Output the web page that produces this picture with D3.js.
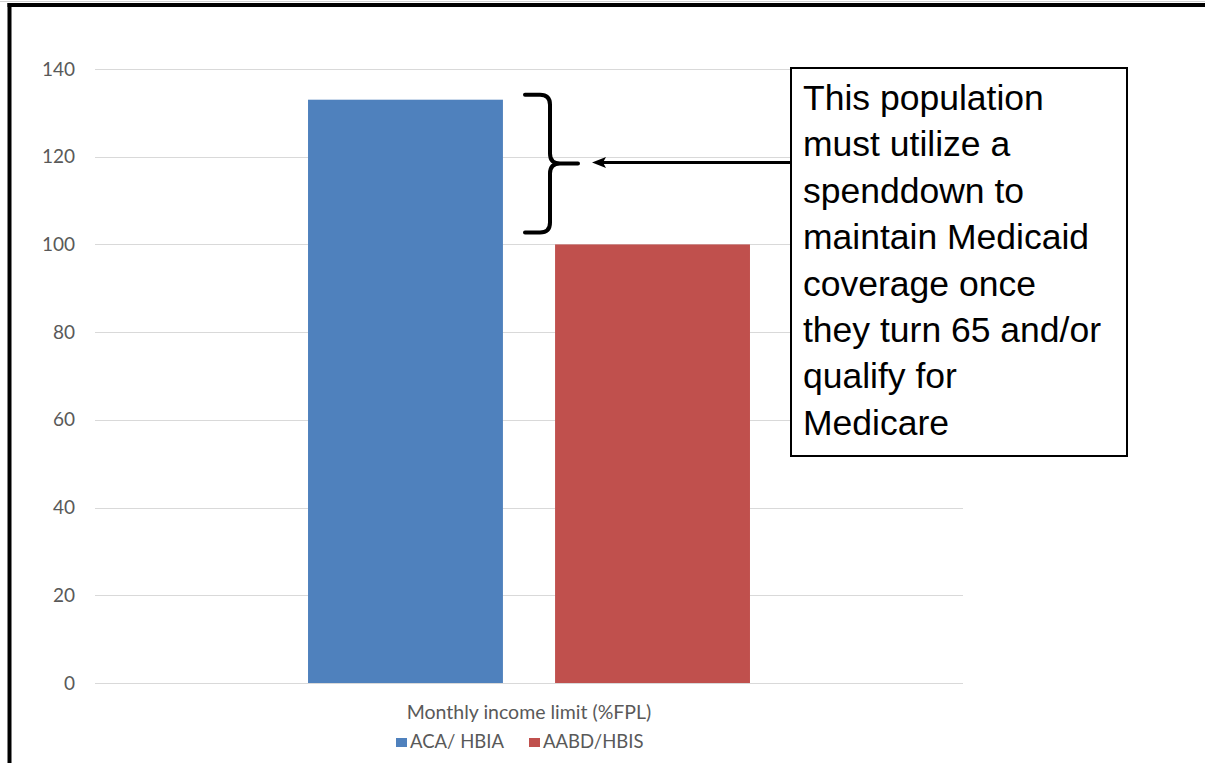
<!DOCTYPE html>
<html>
<head>
<meta charset="utf-8">
<script src="https://cdn.jsdelivr.net/npm/d3@7"></script>
<style>
  html, body { margin: 0; padding: 0; background: #fff; }
  svg { display: block; }
</style>
</head>
<body>
<svg id="chart" width="1205" height="763"></svg>
<script>
// Chart data
const categories = ["Monthly income limit (%FPL)"];
const seriesNames = ["ACA/ HBIA", "AABD/HBIS"];
const seriesValues = [133, 100];
const seriesColors = ["#4f81bd", "#c0504d"];
const yTicks = [0, 20, 40, 60, 80, 100, 120, 140];
const calloutLines = [
  "This population",
  "must utilize a",
  "spenddown to",
  "maintain Medicaid",
  "coverage once",
  "they turn 65 and/or",
  "qualify for",
  "Medicare"
];

const svg = d3.select("#chart");
const W = 1205, H = 763;
const plot = { left: 95, right: 963, top: 69, bottom: 683 };
const labelFont = "Lato, 'Open Sans', sans-serif";

svg.append("rect").attr("width", W).attr("height", H).attr("fill", "#fff");

// Scales
const y = d3.scaleLinear().domain([0, 140]).range([plot.bottom, plot.top]);
const xCat = d3.scaleBand().domain(categories).range([plot.left, plot.right]).paddingInner(0).paddingOuter(0.482);
const xSeries = d3.scaleBand().domain(seriesNames).range([0, xCat.bandwidth()]).paddingInner(0.211);

// Gridlines
svg.append("g")
  .selectAll("line")
  .data(yTicks)
  .join("line")
  .attr("x1", plot.left).attr("x2", plot.right)
  .attr("y1", d => Math.round(y(d)) + 0.5).attr("y2", d => Math.round(y(d)) + 0.5)
  .attr("stroke", "#d9d9d9").attr("stroke-width", 1.2);

// Y axis labels
const yAxis = d3.axisLeft(y).tickValues(yTicks).tickSize(0).tickPadding(20);
const yG = svg.append("g").attr("transform", `translate(${plot.left},0)`).call(yAxis);
yG.select(".domain").remove();
yG.selectAll("text")
  .attr("font-family", labelFont).attr("font-size", 19).attr("fill", "#595959");

// Bars
const bars = seriesNames.map((name, i) => ({ name, value: seriesValues[i], color: seriesColors[i], cat: categories[0] }));
svg.append("g")
  .selectAll("rect")
  .data(bars)
  .join("rect")
  .attr("x", d => xCat(d.cat) + xSeries(d.name))
  .attr("width", xSeries.bandwidth())
  .attr("y", d => y(d.value))
  .attr("height", d => y(0) - y(d.value))
  .attr("fill", d => d.color);

// Category axis title
svg.append("text")
  .attr("x", xCat(categories[0]) + xCat.bandwidth() / 2)
  .attr("y", 719)
  .attr("text-anchor", "middle")
  .attr("font-family", labelFont).attr("font-size", 19.5).attr("fill", "#595959")
  .text(categories[0]);

// Legend
const legendX = [396, 529];
const lg = svg.append("g").selectAll("g").data(bars).join("g")
  .attr("transform", (d, i) => `translate(${legendX[i]},738)`);
lg.append("rect").attr("width", 11).attr("height", 9).attr("fill", d => d.color);
lg.append("text").attr("x", 14).attr("y", 10)
  .attr("font-family", labelFont).attr("font-size", 18.5).attr("fill", "#595959")
  .text(d => d.name);

// Brace spanning the difference between the two bars
const braceTop = y(seriesValues[0]) - 5;
const braceBot = y(seriesValues[1]) - 12;
const braceMid = (braceTop + braceBot) / 2;
const bx0 = 525, bx1 = 550, bxTip = 578;
const r = 10;
const brace = d3.path();
brace.moveTo(bx0, braceTop);
brace.lineTo(bx1 - r, braceTop);
brace.quadraticCurveTo(bx1, braceTop, bx1, braceTop + r);
brace.lineTo(bx1, braceMid - r);
brace.quadraticCurveTo(bx1, braceMid, bx1 + r, braceMid);
brace.lineTo(bxTip, braceMid);
brace.moveTo(bx1 + r, braceMid);
brace.quadraticCurveTo(bx1, braceMid, bx1, braceMid + r);
brace.lineTo(bx1, braceBot - r);
brace.quadraticCurveTo(bx1, braceBot, bx1 - r, braceBot);
brace.lineTo(bx0, braceBot);
svg.append("path").attr("d", brace.toString())
  .attr("fill", "none").attr("stroke", "#000").attr("stroke-width", 4)
  .attr("stroke-linecap", "round").attr("stroke-linejoin", "round");

// Callout box
const box = { x: 791, y: 68, w: 336, h: 388 };
svg.append("rect")
  .attr("x", box.x).attr("y", box.y).attr("width", box.w).attr("height", box.h)
  .attr("fill", "#fff").attr("stroke", "#000").attr("stroke-width", 2);

// Arrow from the callout to the brace
const arrowY = braceMid - 1;
const tipX = 592;
svg.append("line")
  .attr("x1", box.x).attr("x2", tipX + 10)
  .attr("y1", arrowY).attr("y2", arrowY)
  .attr("stroke", "#000").attr("stroke-width", 3);
svg.append("path")
  .attr("d", `M${tipX},${arrowY} L${tipX + 14},${arrowY - 5.5} L${tipX + 11},${arrowY} L${tipX + 14},${arrowY + 5.5} Z`)
  .attr("fill", "#000");

// Callout text
svg.append("g").selectAll("text").data(calloutLines).join("text")
  .attr("x", 803)
  .attr("y", (d, i) => 110 + i * 46.4)
  .attr("font-family", "'Liberation Sans', Arial, sans-serif")
  .attr("font-size", 35.5)
  .attr("fill", "#000")
  .text(d => d);

// Outer frame (top and left edges)
svg.append("line").attr("x1", 7.5).attr("x2", W).attr("y1", 5).attr("y2", 5)
  .attr("stroke", "#000").attr("stroke-width", 4);
svg.append("line").attr("x1", 9.5).attr("x2", 9.5).attr("y1", 3).attr("y2", H)
  .attr("stroke", "#000").attr("stroke-width", 4);
svg.append("line").attr("x1", 0).attr("x2", W).attr("y1", 1.5).attr("y2", 1.5)
  .attr("stroke", "#d0d0d0").attr("stroke-width", 1);
</script>
</body>
</html>
